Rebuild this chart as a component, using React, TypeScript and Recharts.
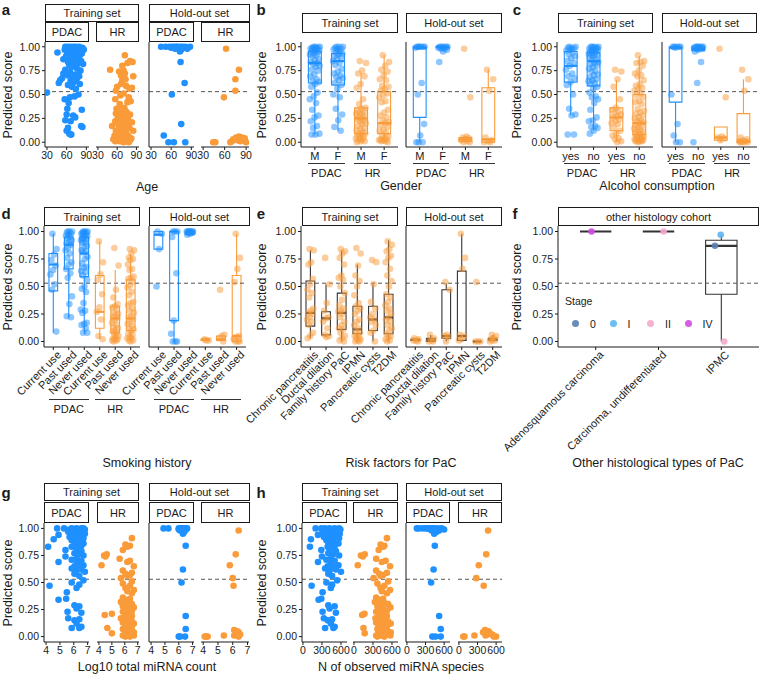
import React from 'react'
import { ScatterChart, Scatter, XAxis, YAxis, ReferenceLine, ReferenceArea } from 'recharts'

const FONT = '"Liberation Sans", Arial, Helvetica, sans-serif'
const INK = '#1a1a1a'
const BLUE = '#1e90ff'
const ORANGE = '#fa9b3a'
const BOX_GREY = '#333333'
const CUTOFF = 0.53
const Y_TICKS = [0, 0.25, 0.5, 0.75, 1]

// ---------- training set, PDAC (sorted by predicted score) ----------
const trainPdacScore = [
  1.00, 1.00, 1.00, 1.00, 1.00, 1.00, 0.99, 0.99, 0.99, 0.99,
  0.98, 0.98, 0.98, 0.97, 0.97, 0.97, 0.96, 0.96, 0.95, 0.95,
  0.94, 0.94, 0.93, 0.93, 0.92, 0.92, 0.91, 0.90, 0.90, 0.89,
  0.88, 0.87, 0.86, 0.85, 0.84, 0.83, 0.83, 0.82, 0.81, 0.80,
  0.79, 0.77, 0.76, 0.75, 0.74, 0.72, 0.71, 0.70, 0.69, 0.68,
  0.67, 0.66, 0.65, 0.64, 0.63, 0.62, 0.61, 0.60, 0.58, 0.56,
  0.52, 0.50, 0.48, 0.47, 0.45, 0.41, 0.35, 0.34, 0.29, 0.28,
  0.26, 0.23, 0.22, 0.17, 0.16, 0.15, 0.12, 0.09, 0.08, 0.08,
]
const trainPdacAge = [
  58, 62, 66, 70, 74, 79, 64, 68, 76, 84,
  60, 72, 81, 57, 66, 86, 70, 78, 63, 75,
  46, 69, 61, 83, 73, 65, 80, 59, 71, 77,
  67, 55, 74, 82, 62, 70, 78, 85, 64, 72,
  68, 76, 58, 81, 65, 55, 73, 62, 79, 69,
  53, 75, 50, 66, 71, 48, 80, 62, 68, 74,
  30, 78, 72, 65, 57, 63, 61, 83, 60, 70,
  73, 58, 66, 82, 84, 62, 60, 64, 67, 66,
]
const trainPdacLogCount = [
  6.2, 5.3, 6.55, 5.85, 6.7, 4.8, 6.4, 6.05, 6.8, 5.7,
  6.4, 6.05, 6.7, 6.2, 5.6, 6.55, 5.85, 6.4, 6.8, 6.2,
  4.9, 6.2, 6.55, 6.05, 6.4, 5.7, 6.7, 6.2, 4.55, 5.85,
  6.4, 6.05, 6.7, 6.2, 6.55, 4.15, 5.85, 6.4, 6.2, 5.4,
  6.55, 6.05, 6.4, 6.7, 5.4, 6.2, 5.85, 6.55, 4.9, 6.4,
  6.2, 6.7, 6.05, 6.4, 5.85, 6.55, 6.2, 6.8, 6.05, 6.4,
  6.7, 5.85, 6.4, 4.25, 6.2, 5.5, 5.45, 4.9, 6.05, 6.4,
  6.2, 5.55, 6.55, 5.6, 6.4, 6.05, 6.2, 6.55, 6.4, 5.85,
]
const trainPdacSpecies = [
  420, 200, 500, 350, 570, 290, 460, 400, 590, 330,
  440, 370, 540, 480, 310, 520, 390, 460, 580, 420,
  237, 440, 520, 390, 480, 330, 570, 420, 126, 370,
  480, 400, 560, 440, 500, 110, 390, 460, 420, 290,
  520, 400, 480, 570, 300, 440, 370, 500, 237, 460,
  440, 560, 390, 480, 350, 520, 420, 600, 400, 460,
  540, 370, 460, 137, 440, 310, 290, 247, 400, 500,
  420, 310, 520, 330, 460, 390, 440, 500, 480, 350,
]
const trainPdacGender = 'MFMFMFMFMM FMMFMFMMFM MFFMMFMFMF FMMFMMFMFM MFMMFFMFMF FMFMMFMFMF MFMFMMFMFM MFMMFMFMMM'
const trainPdacAlcohol = 'NYNNYNYNNY YNNYNNYNNN NYNNYNNYNN YNNYNNYNNY NNYNNYNNYN YNNNYNNYNN NYNNNNYNYY NNNNNNNNYY'
const trainPdacSmoking = 'PNPNNPNPNN NPCNPNNPNP NPNNPNPNNP PNNPCNPNNP CNPNCPNPCN NPCNNPCNPN CNNCNPNPNN NPPNNNNCNN'

// ---------- training set, high-risk (HR) ----------
const trainHrScore = [
  0.91, 0.85, 0.84, 0.83, 0.80, 0.76, 0.75, 0.74, 0.72, 0.70,
  0.69, 0.66, 0.65, 0.61, 0.59, 0.58, 0.57, 0.56, 0.54, 0.51,
  0.49, 0.47, 0.45, 0.43, 0.42, 0.40, 0.36, 0.35, 0.34, 0.33,
  0.32, 0.31, 0.31, 0.30, 0.29, 0.28, 0.27, 0.26, 0.26, 0.25,
  0.24, 0.23, 0.22, 0.22, 0.21, 0.20, 0.20, 0.19, 0.18, 0.17,
  0.16, 0.15, 0.14, 0.13, 0.12, 0.12, 0.11, 0.10, 0.09, 0.09,
  0.08, 0.07, 0.07, 0.06, 0.05, 0.05, 0.04, 0.04, 0.03, 0.03,
  0.03, 0.02, 0.02, 0.02, 0.01, 0.01, 0.01, 0.01, 0.00, 0.00,
]
const trainHrAge = [
  72, 80, 84, 76, 68, 49, 70, 63, 72, 66,
  85, 73, 68, 66, 74, 60, 83, 79, 58, 70,
  65, 78, 57, 81, 76, 64, 71, 59, 67, 73,
  62, 75, 69, 58, 80, 66, 72, 61, 77, 68,
  70, 64, 57, 74, 83, 66, 60, 76, 69, 52,
  63, 79, 67, 71, 58, 85, 65, 74, 61, 70,
  68, 56, 77, 64, 73, 60, 82, 66, 71, 54,
  75, 62, 69, 80, 57, 67, 72, 64, 78, 70,
]
const trainHrLogCount = [
  6.55, 6.05, 6.4, 6.2, 5.85, 4.6, 4.4, 4.5, 5.6, 6.4,
  6.2, 4.2, 6.7, 5.85, 6.55, 6.05, 6.4, 6.2, 5.7, 6.55,
  5.85, 6.4, 6.05, 6.7, 6.2, 6.55, 5.85, 6.4, 6.05, 6.2,
  5.7, 6.4, 6.05, 6.55, 6.2, 5.85, 6.7, 6.4, 6.05, 6.2,
  6.55, 5.85, 6.2, 6.4, 5.0, 4.45, 6.05, 6.55, 6.2, 5.7,
  6.4, 6.05, 6.55, 5.85, 6.2, 6.7, 6.4, 6.05, 6.2, 6.55,
  4.65, 6.2, 5.85, 6.4, 6.55, 6.05, 6.2, 6.7, 6.4, 5.0,
  6.05, 6.4, 6.2, 6.55, 5.85, 6.4, 6.2, 6.7, 6.05, 6.4,
]
const trainHrSpecies = [
  520, 420, 480, 460, 390, 170, 110, 140, 350, 500,
  440, 60, 570, 350, 520, 400, 460, 420, 310, 540,
  370, 480, 420, 570, 440, 520, 350, 460, 400, 440,
  330, 480, 400, 540, 440, 370, 575, 460, 390, 420,
  520, 350, 440, 480, 166, 130, 400, 520, 440, 340,
  480, 390, 540, 350, 440, 580, 460, 390, 420, 520,
  150, 420, 370, 460, 520, 390, 440, 580, 480, 170,
  390, 480, 440, 540, 350, 460, 420, 575, 370, 480,
]
const trainHrGender = 'FMFMFFMFMF MFFMFFMFFF FFMFFMMMFM MMFMMFMMFM MFMMFMFMFM FMMFMFMFMM MFMFMMFMFF MFMFFMMFMF'
const trainHrAlcohol = 'NNNNNYNYNN NYNNNYNNNN NNYNNNYNYN YNYNYNYNYN YNYNNYNYNN NYNNYNNNYN NNYNNNYNNN YNNNYNNNNY'
const trainHrSmoking = 'CPNNNNNNCN PNNCNNNCNN NPNCNPNNPN PCPNPNCPNP PNPNPCNPNP NPNPNPNPNP PNPNPCNPNP NPCPNPNPPN'

// ---------- hold-out set ----------
const holdPdacScore = [
  1.00, 1.00, 1.00, 1.00, 1.00, 1.00, 1.00, 1.00, 1.00, 1.00, 1.00,
  0.99, 0.99, 0.99, 0.98, 0.98, 0.97, 0.95,
  0.84, 0.62, 0.50, 0.19, 0.07, 0.00, 0.00, 0.00,
]
const holdPdacAge = [45, 52, 58, 62, 65, 68, 70, 74, 77, 81, 88, 60, 72, 79, 66, 84, 75, 73, 74, 80, 61, 75, 49, 56, 64, 81]
const holdPdacLogCount = [4.9, 5.25, 6.0, 6.1, 6.2, 6.3, 6.4, 6.5, 6.6, 6.2, 6.4, 6.0, 6.3, 6.5, 6.1, 6.2, 6.4, 6.3, 6.5, 6.3, 6.2, 6.5, 6.5, 6.0, 6.1, 6.45]
const holdPdacSpecies = [160, 190, 250, 300, 330, 360, 390, 420, 450, 500, 560, 600, 380, 470, 400, 520, 480, 440, 450, 430, 390, 520, 545, 410, 460, 545]
const holdPdacGender = 'MFMFMFMFMFM MFFFFFF FMMMMMMM'
const holdPdacAlcohol = 'YNYNYNYNNYN NNYNNNN NNYYYYNY'
const holdPdacSmoking = 'NNPNNCNPNPN NNNCNNP CPCPPPPP'

const holdHrScore = [0.98, 0.76, 0.66, 0.54, 0.47, 0.06, 0.05, 0.05, 0.04, 0.03, 0.02, 0.02, 0.01, 0.01, 0.00, 0.00, 0.00, 0.00]
const holdHrAge = [62, 80, 75, 75, 59, 80, 84, 76, 88, 72, 86, 78, 82, 70, 44, 47, 68, 90]
const holdHrLogCount = [6.4, 6.2, 5.8, 6.0, 6.05, 6.1, 6.2, 6.3, 6.4, 6.2, 6.3, 6.5, 6.1, 5.4, 4.1, 4.2, 4.3, 6.4]
const holdHrSpecies = [470, 440, 320, 280, 400, 420, 450, 480, 390, 500, 460, 540, 430, 250, 70, 90, 600, 560]
const holdHrGender = 'MFFFMMFMMMFMMFMFFM'
const holdHrAlcohol = 'YNNNYYNYYNYNNNNNNN'
const holdHrSmoking = 'NNNNPPPNNPCNCCPNNN'

// box statistics: [lower whisker, Q1, median, Q3, upper whisker]
const genderTrainBox = [[0.08, 0.62, 0.83, 0.95, 1.00], [0.12, 0.60, 0.85, 0.93, 1.00], [0.00, 0.09, 0.25, 0.36, 0.72], [0.00, 0.09, 0.20, 0.53, 0.91]]
const genderHoldBox = [[0.00, 0.26, 0.99, 1.00, 1.00], [0.97, 0.99, 1.00, 1.00, 1.00], [0.00, 0.01, 0.03, 0.05, 0.06], [0.00, 0.00, 0.03, 0.57, 0.76]]
const alcoholTrainBox = [[0.28, 0.63, 0.80, 0.95, 1.00], [0.12, 0.59, 0.85, 0.94, 1.00], [0.00, 0.12, 0.26, 0.36, 0.65], [0.00, 0.08, 0.20, 0.50, 0.90]]
const alcoholHoldBox = [[0.00, 0.42, 0.99, 1.00, 1.00], [0.95, 0.96, 0.98, 1.00, 1.00], [0.00, 0.02, 0.05, 0.16, 0.16], [0.00, 0.00, 0.01, 0.30, 0.66]]
const smokingTrainBox = [
  [0.08, 0.46, 0.70, 0.80, 0.98], [0.22, 0.66, 0.88, 0.95, 1.00], [0.07, 0.59, 0.80, 0.95, 1.00],
  [0.02, 0.12, 0.27, 0.60, 0.91], [0.00, 0.08, 0.21, 0.32, 0.65], [0.01, 0.10, 0.21, 0.56, 0.80],
]
const smokingHoldBox = [
  [0.84, 0.84, 0.97, 1.00, 1.00], [0.00, 0.19, 1.00, 1.00, 1.00], [0.97, 0.97, 0.99, 1.00, 1.00],
  [0.01, 0.01, 0.02, 0.02, 0.02], [0.00, 0.01, 0.02, 0.05, 0.06], [0.00, 0.00, 0.05, 0.60, 0.98],
]

// risk factors (HR only)
const riskLabels = ['Chronic pancreatitis', 'Ductal dilation', 'Family history PaC', 'IPMN', 'Pancreatic cysts', 'T2DM']
const riskTrainChronic = [0.84, 0.83, 0.72, 0.70, 0.57, 0.52, 0.47, 0.44, 0.40, 0.30, 0.28, 0.26, 0.25, 0.22, 0.20, 0.18, 0.15, 0.08, 0.05, 0.03]
const riskTrainDuctal = [0.76, 0.52, 0.35, 0.28, 0.22, 0.21, 0.18, 0.12, 0.06, 0.05, 0.04]
const riskTrainFamily = [0.84, 0.82, 0.80, 0.76, 0.70, 0.60, 0.58, 0.56, 0.50, 0.44, 0.38, 0.33, 0.30, 0.28, 0.27, 0.25, 0.22, 0.18, 0.15, 0.12, 0.11, 0.08, 0.05, 0.03, 0.01, 0.00]
const riskTrainIpmn = [0.85, 0.80, 0.69, 0.60, 0.55, 0.50, 0.42, 0.35, 0.32, 0.30, 0.28, 0.25, 0.20, 0.18, 0.15, 0.12, 0.10, 0.08, 0.06, 0.05, 0.04, 0.03, 0.02, 0.01, 0.00, 0.00]
const riskTrainCysts = [0.74, 0.72, 0.52, 0.36, 0.30, 0.25, 0.22, 0.20, 0.18, 0.15, 0.10, 0.08, 0.00]
const riskTrainT2dm = [0.91, 0.88, 0.84, 0.82, 0.78, 0.76, 0.72, 0.66, 0.60, 0.55, 0.50, 0.43, 0.40, 0.36, 0.33, 0.30, 0.28, 0.25, 0.22, 0.20, 0.18, 0.15, 0.12, 0.10, 0.07, 0.05, 0.04, 0.02, 0.01, 0.00]
const riskHoldChronic = [0.03, 0.02, 0.01, 0.01, 0.00]
const riskHoldDuctal = [0.06, 0.03, 0.01, 0.00, 0.00]
const riskHoldFamily = [0.54, 0.47, 0.06, 0.05, 0.04, 0.00]
const riskHoldIpmn = [0.98, 0.76, 0.66, 0.06, 0.05, 0.02, 0.01]
const riskHoldCysts = [0.54, 0.00, 0.00, 0.00]
const riskHoldT2dm = [0.06, 0.05, 0.03, 0.02, 0.01, 0.01, 0.00]
const riskTrainBox = [
  [0.03, 0.14, 0.26, 0.55, 0.83], [0.04, 0.06, 0.21, 0.27, 0.52], [0.00, 0.11, 0.26, 0.44, 0.83],
  [0.00, 0.07, 0.11, 0.32, 0.70], [0.00, 0.10, 0.20, 0.32, 0.52], [0.00, 0.07, 0.22, 0.43, 0.92],
]
const riskHoldBox = [
  [0.01, 0.01, 0.015, 0.02, 0.02], [0.00, 0.00, 0.015, 0.03, 0.06], [0.00, 0.03, 0.05, 0.47, 0.53],
  [0.00, 0.01, 0.05, 0.64, 0.98], [0.00, 0.00, 0.00, 0.00, 0.00], [0.00, 0.01, 0.02, 0.03, 0.06],
]

// other histology cohort
const histTypes = ['Adenosquamous carcinoma', 'Carcinoma, undifferentiated', 'IPMC']
const histType = [0, 1, 2, 2, 2]
const histScore = [1.00, 1.00, 0.97, 0.87, 0.00]
const histStage = ['IV', 'II', 'I', '0', 'II']
const histBox = [[1.00, 1.00, 1.00, 1.00, 1.00], [1.00, 1.00, 1.00, 1.00, 1.00], [0.00, 0.43, 0.87, 0.92, 0.97]]
const stages = ['0', 'I', 'II', 'IV']
const stageColors = ['#5b7fae', '#5cb6f2', '#f5a8cd', '#d04ee0']

// ---------- helpers ----------
type Dot = { x: number; y: number }
type Series = { dots: Dot[]; color: string; alpha: number }
type BoxMark = { x: number; s: number[]; color: string; half: number; fill?: string }
type FacetSpec = {
  left: number; width: number
  domain: [number, number]; ticks: number[]
  labels?: string[]; rotate?: boolean
  yAxis: 'full' | 'line' | 'none'
  series: Series[]; boxes?: BoxMark[]
}

const flat = (s: string) => s.replace(/\s+/g, '')
const pairs = (xs: number[], ys: number[]): Dot[] => ys.map((y, i) => ({ x: xs[i], y }))
const pick = (ys: number[], codes: string, c: string) => {
  const f = flat(codes)
  return ys.filter((_, i) => f[i] === c)
}
// horizontal jitter inside a category, deterministic so the layout is stable
const jit = (i: number) => ((i * 0.618034 + 0.37) % 1) * 2 - 1
const spread = (ys: number[], pos: number, w = 0.22): Dot[] => ys.map((y, i) => ({ x: pos + w * jit(i), y }))

function covariateFacets(cov: number[][], lefts: number[], widths: number[], domain: [number, number], ticks: number[]): FacetSpec[] {
  const scores = [trainPdacScore, trainHrScore, holdPdacScore, holdHrScore]
  const colors = [BLUE, ORANGE, BLUE, ORANGE]
  const axes: FacetSpec['yAxis'][] = ['full', 'none', 'line', 'none']
  return scores.map((ys, k) => ({
    left: lefts[k], width: widths[k], domain, ticks, yAxis: axes[k],
    series: [{ dots: pairs(cov[k], ys), color: colors[k], alpha: 1 }],
  }))
}

function groupedFacet(left: number, width: number, labels: string[], groups: number[][], colors: string[],
  boxes: number[][], yAxis: FacetSpec['yAxis'], rotate = false, boxColor?: string): FacetSpec {
  return {
    left, width, labels, rotate, yAxis,
    domain: [-0.6, labels.length - 0.4],
    ticks: labels.map((_, i) => i),
    series: groups.map((g, i) => ({ dots: spread(g, i), color: colors[i], alpha: 0.5 })),
    boxes: boxes.map((s, i) => ({ x: i, s, color: boxColor ?? colors[i], half: 0.28 })),
  }
}

const split = (pdac: number[], pdacCodes: string, hr: number[], hrCodes: string, keys: string[]) => [
  ...keys.map((k) => pick(pdac, pdacCodes, k)),
  ...keys.map((k) => pick(hr, hrCodes, k)),
]

// ---------- facet specs ----------
const agePanel = covariateFacets([trainPdacAge, trainHrAge, holdPdacAge, holdHrAge], [45, 96, 149, 201], [44, 43, 45, 48], [27, 94], [30, 60, 90])
const countPanel = covariateFacets([trainPdacLogCount, trainHrLogCount, holdPdacLogCount, holdHrLogCount], [44, 97, 149, 201], [45, 42, 45, 48], [3.85, 7.1], [4, 5, 6, 7])
const speciesPanel = covariateFacets([trainPdacSpecies, trainHrSpecies, holdPdacSpecies, holdHrSpecies], [302, 353, 406, 458], [45, 45, 44, 44], [-15, 695], [0, 300, 600])

const c4 = [BLUE, BLUE, ORANGE, ORANGE]
const c6 = [BLUE, BLUE, BLUE, ORANGE, ORANGE, ORANGE]
const genderLabels = ['M', 'F', 'M', 'F']
const alcoholLabels = ['yes', 'no', 'yes', 'no']
const smokingLabels = ['Current use', 'Past used', 'Never used', 'Current use', 'Past used', 'Never used']

const genderPanel = [
  groupedFacet(301, 97, genderLabels, split(trainPdacScore, trainPdacGender, trainHrScore, trainHrGender, ['M', 'F']), c4, genderTrainBox, 'full'),
  groupedFacet(406, 96, genderLabels, split(holdPdacScore, holdPdacGender, holdHrScore, holdHrGender, ['M', 'F']), c4, genderHoldBox, 'line'),
]
const alcoholPanel = [
  groupedFacet(557, 96, alcoholLabels, split(trainPdacScore, trainPdacAlcohol, trainHrScore, trainHrAlcohol, ['Y', 'N']), c4, alcoholTrainBox, 'full'),
  groupedFacet(662, 95, alcoholLabels, split(holdPdacScore, holdPdacAlcohol, holdHrScore, holdHrAlcohol, ['Y', 'N']), c4, alcoholHoldBox, 'line'),
]
const smokingPanel = [
  groupedFacet(44, 96, smokingLabels, split(trainPdacScore, trainPdacSmoking, trainHrScore, trainHrSmoking, ['C', 'P', 'N']), c6, smokingTrainBox, 'full', true),
  groupedFacet(149, 97, smokingLabels, split(holdPdacScore, holdPdacSmoking, holdHrScore, holdHrSmoking, ['C', 'P', 'N']), c6, smokingHoldBox, 'line', true),
]
const riskPanel = [
  groupedFacet(301, 97, riskLabels, [riskTrainChronic, riskTrainDuctal, riskTrainFamily, riskTrainIpmn, riskTrainCysts, riskTrainT2dm],
    Array(6).fill(ORANGE), riskTrainBox, 'full', true, BOX_GREY),
  groupedFacet(406, 96, riskLabels, [riskHoldChronic, riskHoldDuctal, riskHoldFamily, riskHoldIpmn, riskHoldCysts, riskHoldT2dm],
    Array(6).fill(ORANGE), riskHoldBox, 'line', true, BOX_GREY),
]
const histPanel: FacetSpec = {
  left: 558, width: 201, labels: histTypes, rotate: true, yAxis: 'full',
  domain: [-0.6, 2.6], ticks: [0, 1, 2],
  series: stages.map((st, k) => ({
    dots: histScore
      .map((y, i) => ({ x: histType[i] + 0.12 * jit(i + 3), y, st: histStage[i] }))
      .filter((d) => d.st === st),
    color: stageColors[k], alpha: 0.9,
  })),
  boxes: histBox.map((s, i) => ({ x: i, s, color: BOX_GREY, half: 0.25, fill: '#ffffff' })),
}

const ROW1 = { top: 42, height: 105, axisH: 20 }
const ROW2 = { top: 226, height: 121, axisH: 30 }
const ROW3 = { top: 523, height: 119, axisH: 20 }

// ---------- components ----------
function Facet({ spec, top, height, axisH }: { spec: FacetSpec; top: number; height: number; axisH: number }) {
  const yw = spec.yAxis === 'full' ? 40 : spec.yAxis === 'line' ? 1 : 0
  const w = spec.width + yw
  const h = height + axisH
  const tickStyle = { fontSize: 10.5, fill: INK, fontFamily: FONT }
  const slantStyle = { fontSize: 11, fill: INK, fontFamily: FONT }
  const labels = spec.labels
  const tick: any = labels && spec.rotate
    ? (p: any) => (
      <g transform={`translate(${p.x + 3},${p.y - 2}) rotate(-45)`}>
        <text textAnchor="end" dy="0.71em" {...slantStyle}>{labels[p.payload.value]}</text>
      </g>
    )
    : labels ? slantStyle : tickStyle
  return (
    <div style={{ position: 'absolute', left: spec.left - yw, top, width: w, height: h }}>
      <ScatterChart width={w} height={h} margin={{ top: 0, right: 0, bottom: 0, left: 0 }}>
        <XAxis
          type="number" dataKey="x" domain={spec.domain} ticks={spec.ticks} interval={0}
          allowDataOverflow height={axisH} tickSize={3} stroke={INK} tick={tick}
          tickFormatter={labels && !spec.rotate ? (v: number) => labels[v] : undefined}
        />
        <YAxis
          type="number" dataKey="y" domain={[-0.05, 1.05]} ticks={Y_TICKS} allowDataOverflow
          width={yw} hide={spec.yAxis === 'none'} stroke={INK} tickSize={3}
          tick={spec.yAxis === 'full' ? tickStyle : false} tickLine={spec.yAxis === 'full'}
          tickFormatter={(v: number) => v.toFixed(2)}
        />
        <ReferenceLine y={CUTOFF} stroke="#555555" strokeDasharray="4 3" />
        {spec.series.map((s, k) => (
          <Scatter
            key={`s${k}`} data={s.dots} isAnimationActive={false}
            shape={(p: any) => <circle cx={p.cx} cy={p.cy} r={3.3} fill={s.color} fillOpacity={s.alpha} />}
          />
        ))}
        {(spec.boxes ?? []).map((b, i) => [
          <ReferenceLine key={`lw${i}`} segment={[{ x: b.x, y: b.s[0] }, { x: b.x, y: b.s[1] }]} stroke={b.color} strokeWidth={1.1} />,
          <ReferenceLine key={`uw${i}`} segment={[{ x: b.x, y: b.s[3] }, { x: b.x, y: b.s[4] }]} stroke={b.color} strokeWidth={1.1} />,
          <ReferenceArea
            key={`bx${i}`} x1={b.x - b.half} x2={b.x + b.half} y1={b.s[1]} y2={b.s[3]}
            fill={b.fill ?? 'none'} fillOpacity={b.fill ? 1 : 0} stroke={b.color} strokeWidth={1.1}
          />,
          <ReferenceLine key={`md${i}`} segment={[{ x: b.x - b.half, y: b.s[2] }, { x: b.x + b.half, y: b.s[2] }]} stroke={b.color} strokeWidth={2.2} />,
        ])}
      </ScatterChart>
    </div>
  )
}

function Strip({ x, y, w, h, text }: { x: number; y: number; w: number; h: number; text: string }) {
  return (
    <div style={{
      position: 'absolute', left: x, top: y, width: w, height: h, boxSizing: 'border-box',
      border: `1px solid ${INK}`, background: '#fff', display: 'flex', alignItems: 'center',
      justifyContent: 'center', fontSize: 11, color: INK, fontFamily: FONT, whiteSpace: 'nowrap',
    }}>{text}</div>
  )
}

function Txt({ x, y, text, size = 12.5, bold = false, rotate = 0 }: { x: number; y: number; text: string; size?: number; bold?: boolean; rotate?: number }) {
  return (
    <div style={{
      position: 'absolute', left: x, top: y, transform: `translate(-50%, -50%) rotate(${rotate}deg)`,
      fontSize: size, fontWeight: bold ? 700 : 400, whiteSpace: 'nowrap', color: INK, fontFamily: FONT, lineHeight: 1,
    }}>{text}</div>
  )
}

// bracket lines and group names under a categorical axis
function Groups({ spec, lineY, textY, names }: { spec: FacetSpec; lineY: number; textY: number; names: string[] }) {
  const n = spec.ticks.length
  const step = spec.width / (n + 0.2)
  const per = n / names.length
  return (
    <>
      {names.map((name, g) => {
        const x0 = spec.left + (g * per + 0.6) * step - 0.3 * step
        const x1 = spec.left + ((g + 1) * per - 1 + 0.6) * step + 0.3 * step
        return (
          <React.Fragment key={`${name}${g}`}>
            <div style={{ position: 'absolute', left: x0, top: lineY, width: x1 - x0, height: 0, borderTop: '1px solid #333' }} />
            <Txt x={(x0 + x1) / 2} y={textY} text={name} size={11} />
          </React.Fragment>
        )
      })}
    </>
  )
}

const strips: [number, number, number, number, string][] = [
  [45, 4, 94, 18, 'Training set'], [149, 4, 101, 18, 'Hold-out set'],
  [45, 22, 44, 20, 'PDAC'], [96, 22, 43, 20, 'HR'], [149, 22, 45, 20, 'PDAC'], [201, 22, 49, 20, 'HR'],
  [302, 13, 96, 20, 'Training set'], [406, 13, 96, 20, 'Hold-out set'],
  [558, 13, 95, 20, 'Training set'], [662, 13, 95, 20, 'Hold-out set'],
  [44, 207, 96, 19, 'Training set'], [149, 207, 101, 19, 'Hold-out set'],
  [302, 207, 96, 19, 'Training set'], [406, 207, 96, 19, 'Hold-out set'],
  [558, 207, 201, 19, 'other histology cohort'],
  [44, 483, 95, 18, 'Training set'], [149, 483, 101, 18, 'Hold-out set'],
  [44, 502, 45, 21, 'PDAC'], [97, 502, 42, 21, 'HR'], [149, 502, 45, 21, 'PDAC'], [201, 502, 49, 21, 'HR'],
  [302, 483, 96, 18, 'Training set'], [406, 483, 96, 18, 'Hold-out set'],
  [302, 502, 45, 21, 'PDAC'], [353, 502, 45, 21, 'HR'], [406, 502, 44, 21, 'PDAC'], [458, 502, 44, 21, 'HR'],
]

export default function App() {
  return (
    <div style={{ position: 'fixed', left: 0, top: 0, width: 761, height: 674, background: '#fff', overflow: 'hidden', fontFamily: FONT }}>
      <style>{'svg { overflow: visible; }'}</style>

      {agePanel.map((s, i) => <Facet key={`a${i}`} spec={s} {...ROW1} />)}
      {genderPanel.map((s, i) => <Facet key={`b${i}`} spec={s} {...ROW1} />)}
      {alcoholPanel.map((s, i) => <Facet key={`c${i}`} spec={s} {...ROW1} />)}
      {smokingPanel.map((s, i) => <Facet key={`d${i}`} spec={s} {...ROW2} />)}
      {riskPanel.map((s, i) => <Facet key={`e${i}`} spec={s} {...ROW2} />)}
      <Facet spec={histPanel} {...ROW2} />
      {countPanel.map((s, i) => <Facet key={`g${i}`} spec={s} {...ROW3} />)}
      {speciesPanel.map((s, i) => <Facet key={`h${i}`} spec={s} {...ROW3} />)}

      {strips.map(([x, y, w, h, t], i) => <Strip key={`st${i}`} x={x} y={y} w={w} h={h} text={t} />)}

      {genderPanel.map((s, i) => <Groups key={`gb${i}`} spec={s} lineY={163} textY={173} names={['PDAC', 'HR']} />)}
      {alcoholPanel.map((s, i) => <Groups key={`gc${i}`} spec={s} lineY={163} textY={173} names={['PDAC', 'HR']} />)}
      {smokingPanel.map((s, i) => <Groups key={`gd${i}`} spec={s} lineY={399} textY={409} names={['PDAC', 'HR']} />)}

      {/* stage legend inside panel f */}
      <div style={{ position: 'absolute', left: 565, top: 295, fontSize: 10.5, color: INK, fontFamily: FONT }}>Stage</div>
      {stages.map((st, k) => (
        <React.Fragment key={`lg${st}`}>
          <div style={{ position: 'absolute', left: 572 + k * 37.5, top: 320, width: 7, height: 7, borderRadius: 4, background: stageColors[k], opacity: 0.9 }} />
          <div style={{ position: 'absolute', left: 590 + k * 37.5, top: 318, fontSize: 10.5, color: INK, fontFamily: FONT }}>{st}</div>
        </React.Fragment>
      ))}

      {/* y-axis titles */}
      {[[8, 95], [262, 95], [517, 95], [8, 287], [262, 287], [517, 287], [8, 583], [262, 583]].map(([x, y], i) => (
        <Txt key={`yt${i}`} x={x} y={y} text="Predicted score" rotate={-90} />
      ))}

      {/* x-axis titles */}
      <Txt x={147} y={187} text="Age" />
      <Txt x={401} y={186} text="Gender" />
      <Txt x={657} y={186} text="Alcohol consumption" />
      <Txt x={147} y={463} text="Smoking history" />
      <Txt x={401} y={463} text="Risk factors for PaC" />
      <Txt x={658} y={463} text="Other histological types of PaC" />
      <Txt x={147} y={667} text="Log10 total miRNA count" />
      <Txt x={401} y={667} text="N of observed miRNA species" />

      {/* panel letters */}
      {[['a', 6, 9], ['b', 261, 9], ['c', 517, 9], ['d', 6, 213], ['e', 261, 213], ['f', 515, 213], ['g', 6, 492], ['h', 261, 492]].map(([t, x, y]) => (
        <Txt key={`pl${t}`} x={x as number} y={y as number} text={t as string} size={15} bold />
      ))}
    </div>
  )
}
